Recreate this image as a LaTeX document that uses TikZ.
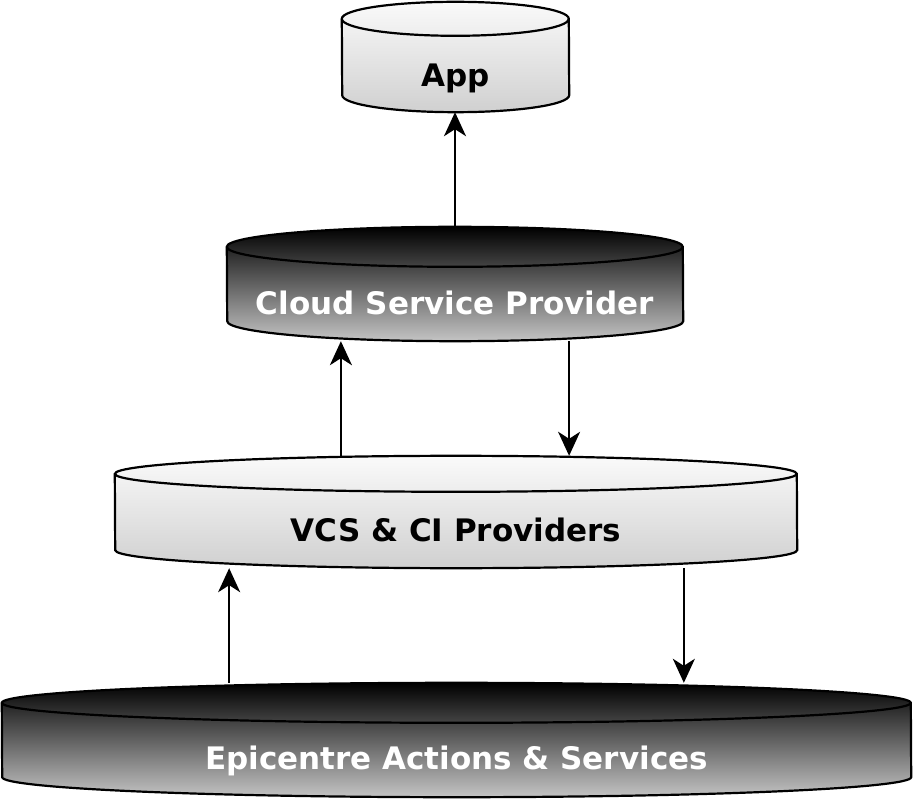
\documentclass[tikz,border=0pt]{standalone}
\usepackage{fontspec}
\setmainfont{DejaVu Sans}
\usetikzlibrary{arrows.meta,calc,backgrounds}
\definecolor{liteTop}{HTML}{FAFAFA}
\definecolor{liteBot}{HTML}{D0D0D0}
\definecolor{darkBot}{HTML}{C4C4C4}

\newcommand\drawcyl[4]{%
  \path[#4] ([yshift=-#3]#1.north west) arc[start angle=180,end angle=0,x radius=#2,y radius=#3]
    -- ([yshift=#3]#1.south east) arc[start angle=0,end angle=-180,x radius=#2,y radius=#3] -- cycle;
  \draw[line width=2.2pt] ([yshift=-#3]#1.north west) arc[start angle=180,end angle=360,x radius=#2,y radius=#3];}

\begin{document}
\begin{tikzpicture}[x=1pt,y=1pt,
    box/.style={inner sep=0pt},
    lbl/.style={font=\bfseries\fontsize{31}{36}\selectfont},
    lite/.style={draw,line width=2.2pt,top color=liteTop,bottom color=liteBot},
    dark/.style={draw,line width=2.2pt,top color=black,bottom color=darkBot},
    arr/.style={-{Stealth[length=24pt,width=22pt,inset=7pt]},line width=2.2pt}]
  \useasboundingbox (0,0) rectangle (913,-799);
  \node[box,minimum width=227pt,minimum height=110pt,
    label={[lbl,yshift=-21pt]center:App}] (app) at (455.5,-57) {};
  \node[box,minimum width=456pt,minimum height=114pt,
    label={[lbl,white,yshift=-19pt]center:Cloud Service Provider}] (cloud) at (455,-284) {};
  \node[box,minimum width=682pt,minimum height=112pt,
    label={[lbl,yshift=-18pt]center:VCS \& CI Providers}] (vcs) at (456,-512) {};
  \node[box,minimum width=909pt,minimum height=114pt,
    label={[lbl,white,yshift=-21pt]center:Epicentre Actions \& Services}] (epi) at (456.5,-740) {};
  \begin{scope}[on background layer]
    \drawcyl{app}{113.5pt}{17pt}{lite}
    \drawcyl{cloud}{228pt}{20pt}{dark}
    \drawcyl{vcs}{341pt}{18pt}{lite}
    \drawcyl{epi}{454.5pt}{20pt}{dark}
  \end{scope}
  \draw[arr] (cloud.north) -- (cloud.north |- app.south);
  \draw[arr] ($(cloud.south west)!.25!(cloud.south east)$) coordinate (u1) (u1 |- vcs.north) -- (u1);
  \draw[arr] ($(cloud.south west)!.75!(cloud.south east)$) coordinate (d1) -- (d1 |- vcs.north);
  \draw[arr] ($(epi.north west)!.25!(epi.north east)$) coordinate (u2) -- (u2 |- vcs.south);
  \draw[arr] ($(epi.north west)!.75!(epi.north east)$) coordinate (d2) (d2 |- vcs.south) -- (d2);
\end{tikzpicture}
\end{document}
